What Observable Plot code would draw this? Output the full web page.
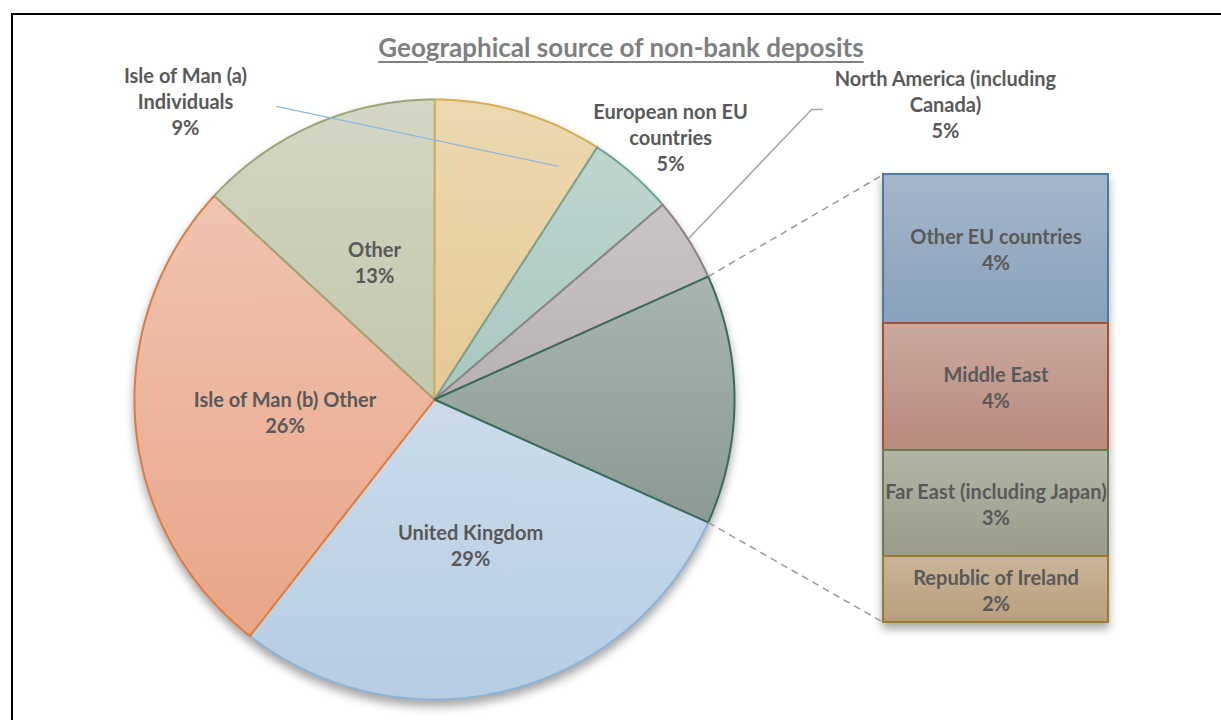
<!DOCTYPE html>
<html><head><meta charset="utf-8">
<script src="https://cdn.jsdelivr.net/npm/d3@7"></script>
<script src="https://cdn.jsdelivr.net/npm/@observablehq/plot@0.6"></script>
<style>
body{margin:0;background:#fff;}
#wrap{position:relative;width:1221px;height:720px;overflow:hidden;font-family:Lato,"Open Sans",sans-serif;}
#frame{position:absolute;left:11px;top:13px;width:1300px;height:800px;border:2px solid #000;box-sizing:border-box;}
#title{position:absolute;left:0;width:1242px;top:31px;text-align:center;font-weight:bold;font-size:26px;color:#7f7f7f;text-decoration:underline;text-underline-offset:4px;text-decoration-thickness:2px;}
#chart{position:absolute;left:0;top:0;}
</style></head><body>
<div id="wrap"><div id="frame"></div><div id="chart"></div><div id="title">Geographical source of non-bank deposits</div></div>
<script>
// ---- data (percent of non-bank deposits) ----
const pieNames = ["Isle of Man (a) Individuals", "European non EU countries", "North America (including Canada)", "United Kingdom", "Isle of Man (b) Other", "Other"];
const pieValues = [9.1, 4.64, 4.52, 28.83, 26.33, 13.14];
const splitAfter = 3; // aggregated "bar" slice sits after the first three slices
const barNames = ["Other EU countries", "Middle East", "Far East (including Japan)", "Republic of Ireland"];
const barValues = [4.47, 3.81, 3.18, 1.98];

// ---- styles / layout ----
const pieGrad = [["#ecd9b0","#e5c995"],["#bfd5d0","#a9c6bf"],["#cac5c5","#b8b1b1"],["#cbdbea","#b6cde3"],["#f0c4b1","#e9a587"],["#d3d7c3","#c3c7ae"]];
const pieStroke = ["#d6ad55","#6ea596","#8c8282","#8db3d6","#e07b3c","#9aa676"];
const aggGrad = ["#a8b5af","#8a9a93"], aggStroke = "#3c6b5b";
const barGrad = [["#a5b6ca","#88a1bc"],["#caa99e","#b9897d"],["#b3b6a6","#989c88"],["#c9b59a","#b89e7b"]];
const barStroke = ["#4a7aa8","#a8502a","#6d7a4e","#9c7a2c"];
const wrapped = {0: "Isle of Man (a)\nIndividuals", 1: "European non EU\ncountries", 2: "North America (including\nCanada)"};
const outsidePos = {0: [-0.83, 0.997], 1: [0.787, 0.875], 2: [1.703, 0.985]};
const BAR_X1 = 1.4967, BAR_X2 = 2.2467, BAR_TOP = 0.75, BAR_BOTTOM = -0.7433;
const TXT = "#595959";

// ---- derived geometry ----
const barTotal = d3.sum(barValues);
const total = d3.sum(pieValues) + barTotal;
const slices = pieNames.map((name, i) => ({name, value: pieValues[i], i, agg: false}));
slices.splice(splitAfter, 0, {name: "(bar)", value: barTotal, i: -1, agg: true});
const before = d3.sum(slices.slice(0, splitAfter), d => d.value);
let ang = 90 - (before + barTotal / 2) / total * 360;
slices.forEach(s => { s.a0 = ang; ang += s.value / total * 360; s.a1 = ang; s.mid = (s.a0 + s.a1) / 2; });
const rad = d => d * Math.PI / 180;
const pt = (deg, r) => [r * Math.sin(rad(deg)), r * Math.cos(rad(deg))];

// draw order: start after the aggregated slice, so that it is painted last
const order = d3.range(slices.length).map(j => (j + splitAfter + 1) % slices.length);
const piePts = [];
order.forEach(k => {
  const s = slices[k];
  const fill = s.agg ? "url(#gAgg)" : `url(#gP${s.i})`;
  const stroke = s.agg ? aggStroke : pieStroke[s.i];
  piePts.push({k, x: 0, y: 0, fill, stroke});
  const n = Math.max(2, Math.ceil((s.a1 - s.a0) / 0.5));
  for (let j = 0; j <= n; j++) {
    const [x, y] = pt(s.a0 + (s.a1 - s.a0) * j / n, 1);
    piePts.push({k, x, y, fill, stroke});
  }
});

const kk = (BAR_TOP - BAR_BOTTOM) / barTotal;
let cum = 0;
const bars = barNames.map((name, i) => {
  const y1 = BAR_TOP - cum * kk; cum += barValues[i];
  const y2 = BAR_TOP - cum * kk;
  return {name, value: barValues[i], y1, y2, ym: (y1 + y2) / 2, fill: `url(#gB${i})`, stroke: barStroke[i]};
});

const labels = slices.filter(s => !s.agg).map(s => {
  const pct = Math.round(s.value) + "%";
  if (outsidePos[s.i]) return {x: outsidePos[s.i][0], y: outsidePos[s.i][1], text: wrapped[s.i] + "\n" + pct};
  const [x, y] = pt(s.mid, 0.5);
  return {x, y, text: s.name + "\n" + pct};
});
const barLabels = bars.map(b => ({x: (BAR_X1 + BAR_X2) / 2, y: b.ym, text: b.name + "\n" + Math.round(b.value) + "%"}));

const agg = slices[splitAfter];
const connectors = [
  {p: pt(agg.a0, 1), q: [BAR_X1, BAR_TOP]},
  {p: pt(agg.a1, 1), q: [BAR_X1, BAR_BOTTOM]}
];
const leaderA = [{x1: -0.527, y1: 0.977, x2: 0.413, y2: 0.777}];
const leaderNA = [[0.847, 0.537], [1.257, 0.967], [1.293, 0.967]].map(([x, y]) => ({x, y}));

const textOpts = {fontSize: 20, fontWeight: "bold", fill: TXT, lineHeight: 1.3, fontFamily: "Lato, 'Open Sans', sans-serif"};

const chart = Plot.plot({
  width: 1221, height: 720, margin: 0,
  x: {domain: [-1, 1], range: [134, 734], axis: null},
  y: {domain: [-1, 1], range: [699, 99], axis: null},
  color: {type: "identity"},
  marks: [
    Plot.line(piePts, {x: "x", y: "y", z: "k", fill: "fill", stroke: "stroke", strokeWidth: 2, curve: "linear-closed", strokeLinejoin: "round"}),
    Plot.rect(bars, {x1: BAR_X1, x2: BAR_X2, y1: "y1", y2: "y2", fill: "fill", stroke: "stroke", strokeWidth: 2}),
    Plot.link(connectors, {x1: d => d.p[0], y1: d => d.p[1], x2: d => d.q[0], y2: d => d.q[1], stroke: "#9a9a9a", strokeWidth: 1.5, strokeDasharray: "7,5"}),
    Plot.link(leaderA, {x1: "x1", y1: "y1", x2: "x2", y2: "y2", stroke: "#8db4e2", strokeWidth: 1.2}),
    Plot.line(leaderNA, {x: "x", y: "y", stroke: "#a6a6a6", strokeWidth: 1.5}),
    Plot.text(labels, {x: "x", y: "y", text: "text", ...textOpts}),
    Plot.text(barLabels, {x: "x", y: "y", text: "text", ...textOpts})
  ]
});
document.getElementById("chart").appendChild(chart);

// gradients & shadows
const svg = d3.select(chart);
const defs = svg.insert("defs", ":first-child");
function grad(id, c) {
  const g = defs.append("linearGradient").attr("id", id).attr("x1", 0).attr("y1", 0).attr("x2", 0).attr("y2", 1);
  g.append("stop").attr("offset", "0%").attr("stop-color", c[0]);
  g.append("stop").attr("offset", "100%").attr("stop-color", c[1]);
}
pieGrad.forEach((c, i) => grad("gP" + i, c));
grad("gAgg", aggGrad);
barGrad.forEach((c, i) => grad("gB" + i, c));
const gs = chart.querySelectorAll(':scope > g');
if (gs[0]) gs[0].style.filter = "drop-shadow(0px 6px 5px rgba(0,0,0,0.35))";
if (gs[1]) gs[1].style.filter = "drop-shadow(0px 6px 5px rgba(0,0,0,0.35))";
</script>
</body></html>
